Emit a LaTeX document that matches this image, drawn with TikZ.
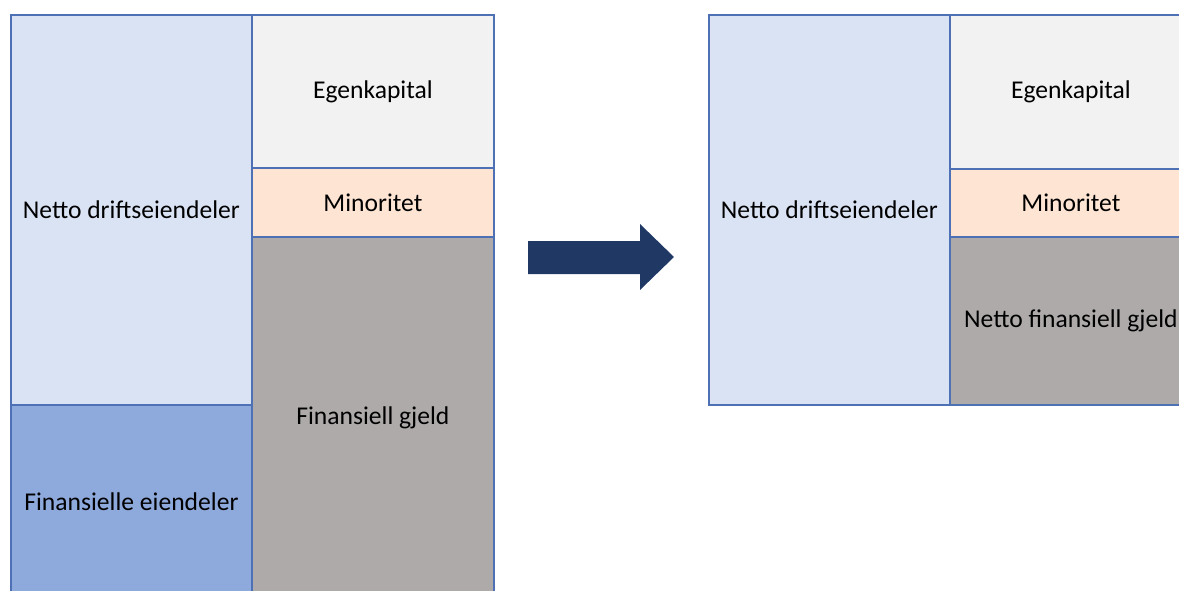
\documentclass[tikz,border=0pt]{standalone}
\usepackage{fontspec}
\setmainfont{Carlito}
\begin{document}
\begin{tikzpicture}[x=1pt,y=-1pt,
  blk/.style={draw=frame,line width=1.8pt,inner sep=0pt,anchor=north west,
    font=\fontsize{25.6}{30}\selectfont,text=black},
  bigarrow/.style={fill=navy,draw=none}]
\definecolor{frame}{HTML}{4E70B4}
\definecolor{ndrift}{HTML}{DAE3F3}
\definecolor{finei}{HTML}{8EA9DB}
\definecolor{egen}{HTML}{F2F2F2}
\definecolor{mino}{HTML}{FDE4D3}
\definecolor{gjeld}{HTML}{AEAAAA}
\definecolor{navy}{HTML}{203864}
\useasboundingbox (0,0) rectangle (1179,591);
\clip (0,0) rectangle (1179,591);
% balance before
\node[blk,fill=ndrift,minimum width=241pt,minimum height=390pt] (nd1) at (10,14) {Netto driftseiendeler};
\node[blk,fill=finei,minimum width=241pt,minimum height=194pt] (fe) at (10,404) {Finansielle eiendeler};
\node[blk,fill=egen,minimum width=242pt,minimum height=153pt] (ek1) at (251,14) {Egenkapital};
\node[blk,fill=mino,minimum width=242pt,minimum height=69pt] (mi1) at (251,167) {Minoritet};
\node[blk,fill=gjeld,minimum width=242pt,minimum height=362pt] (fg) at (251,236) {Finansiell gjeld};
% arrow
\fill[bigarrow] (528,241) -- (640,241) -- (640,224) -- (674,257) -- (640,290) -- (640,274) -- (528,274) -- cycle;
% balance after
\node[blk,fill=ndrift,minimum width=241pt,minimum height=390pt] (nd2) at (708,14) {Netto driftseiendeler};
\node[blk,fill=egen,minimum width=242pt,minimum height=154pt] (ek2) at (949,14) {Egenkapital};
\node[blk,fill=mino,minimum width=242pt,minimum height=68pt] (mi2) at (949,168) {Minoritet};
\node[blk,fill=gjeld,minimum width=242pt,minimum height=168pt] (nfg) at (949,236) {Netto finansiell gjeld};
\end{tikzpicture}
\end{document}
